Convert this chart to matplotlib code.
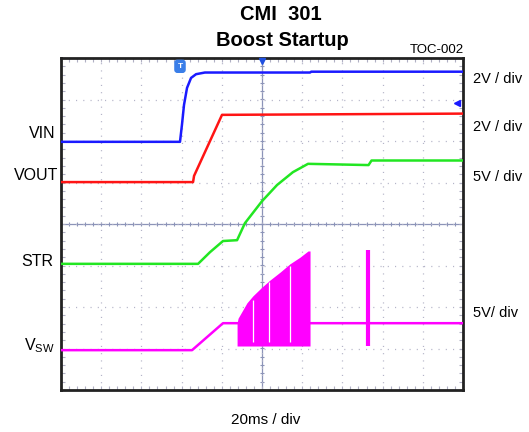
import numpy as np
import matplotlib
matplotlib.use('Agg')
import matplotlib.pyplot as plt
from matplotlib.ticker import MultipleLocator

plt.rcParams['font.family'] = ['Liberation Sans', 'DejaVu Sans']
plt.rcParams['mathtext.fontset'] = 'custom'
plt.rcParams['mathtext.rm'] = 'Liberation Sans'

# time in ms (20 ms/div, trigger at centre), levels in divisions from centre
vin_t = [-100, -40.8, -39.8, -38.8, -37.3, -35.3, -32.8, -28.4, 23.9, 24.5, 100]
vin_v = [1.98, 1.98, 2.40, 2.87, 3.28, 3.52, 3.61, 3.65, 3.65, 3.67, 3.67]

vout_t = [-100, -34.3, -33.8, -19.9, 100]
vout_v = [1.01, 1.01, 1.16, 2.63, 2.66]

str_t = [-100, -31.8, -25.9, -19.4, -12.4, -8.5, 0, 7.5, 15.4, 22.9, 53.0, 54.5, 100]
str_v = [-0.96, -0.96, -0.68, -0.41, -0.39, 0.02, 0.55, 0.94, 1.25, 1.45, 1.42, 1.53, 1.53]

vsw_t = [-100, -34.8, -19.4, -12.4, 23.9, 100]
vsw_v = [-3.04, -3.04, -2.39, -2.39, -2.39, -2.39]

# switching burst envelope
burst_t = [-12.4, -11.9, -7.5, -4.5, 0, 4.0, 9.0, 13.9, 18.9, 22.9, 23.9]
burst_top = [-2.39, -2.27, -1.90, -1.73, -1.52, -1.35, -1.16, -0.96, -0.80, -0.65, -0.65]
burst_bot = -2.94
gap_t = [-4.5, 3.5, 13.9]
gap_top = [-1.83, -1.40, -1.00]
gap_bot = -2.84
spike_t = 52.7
spike_top = -0.63
spike_bot = -2.94

trace_labels = ['VIN', 'VOUT', 'STR', r'V$_{\mathrm{SW}}$']
scale_labels = ['2V / div', '2V / div', '5V / div', '5V/ div']

BLUE = '#1a1aff'
RED = '#ff1414'
GREEN = '#22e622'
MAG = '#ff00ff'

fig = plt.figure(figsize=(5.29, 4.32), dpi=100)
ax = fig.add_axes([61/529, 42/432, 402/529, 332/432])
ax.set_xlim(-100, 100)
ax.set_ylim(-4, 4)

# scope graticule
ax.xaxis.set_major_locator(MultipleLocator(20))
ax.yaxis.set_major_locator(MultipleLocator(1))
ax.xaxis.set_minor_locator(MultipleLocator(4))
ax.yaxis.set_minor_locator(MultipleLocator(0.2))
ax.grid(True, which='major', color='#b4b4c8', lw=0.9, ls=(0, (0.9, 4.9)))
ax.tick_params(which='both', direction='in', top=True, right=True,
               labelbottom=False, labelleft=False, color='#b0b0c4', length=3, width=0.8)
for s in ax.spines.values():
    s.set_linewidth(2)
    s.set_color('#222222')

cc = '#8c94b8'
ax.axhline(0, color=cc, lw=0.9, zorder=1)
ax.axvline(0, color=cc, lw=0.9, zorder=1)
ax.vlines(np.arange(-100, 101, 4), -0.06, 0.06, color=cc, lw=0.8, zorder=1)
ax.hlines(np.arange(-4, 4.01, 0.2), -1.2, 1.2, color=cc, lw=0.8, zorder=1)

# traces
ax.plot(vin_t, vin_v, color=BLUE, lw=1.8, zorder=3)
ax.plot(vout_t, vout_v, color=RED, lw=1.8, zorder=3)
ax.plot(str_t, str_v, color=GREEN, lw=1.8, zorder=3)
ax.plot(vsw_t, vsw_v, color=MAG, lw=1.8, zorder=3)
ax.fill_between(burst_t, burst_bot, burst_top, color=MAG, lw=0, zorder=3)
ax.vlines(gap_t, gap_bot, gap_top, color='white', lw=0.9, zorder=4)
ax.vlines([spike_t], spike_bot, spike_top, color=MAG, lw=3, zorder=3)

# scope markers
ax.text(-40.8, 3.8, 'T', color='white', fontsize=6, fontweight='bold', ha='center', va='center',
        bbox=dict(boxstyle='round,pad=0.3', fc='#3a7ee8', ec='#3a7ee8'), zorder=5)
ax.plot([0], [3.93], marker='v', color='#2050e0', ms=5, clip_on=False, zorder=5)
ax.plot([97.2], [2.92], marker='<', color=BLUE, ms=4, zorder=5)

# labels
fig.text(281/529, 1 - 15/432, 'CMI  301', ha='center', va='center', fontsize=14.5,
         fontweight='bold')
fig.text(282/529, 1 - 41/432, 'Boost Startup', ha='center', va='center', fontsize=14.5,
         fontweight='bold')
fig.text(437/529, 1 - 50/432, 'TOC-002', ha='center', va='center', fontsize=9.5)
fig.text(266/529, 1 - 420/432, '20ms / div', ha='center', va='center', fontsize=11)

left_x = [55, 58, 53, 55]
left_y = [134, 175, 262, 346]
for lab, x, y in zip(trace_labels, left_x, left_y):
    fig.text(x/529, 1 - y/432, lab, ha='right', va='center', fontsize=11.5)

right_y = [79, 127, 177, 313]
for lab, y in zip(scale_labels, right_y):
    fig.text(473/529, 1 - y/432, lab, ha='left', va='center', fontsize=10.5)

fig.savefig('out.png', dpi=100)
